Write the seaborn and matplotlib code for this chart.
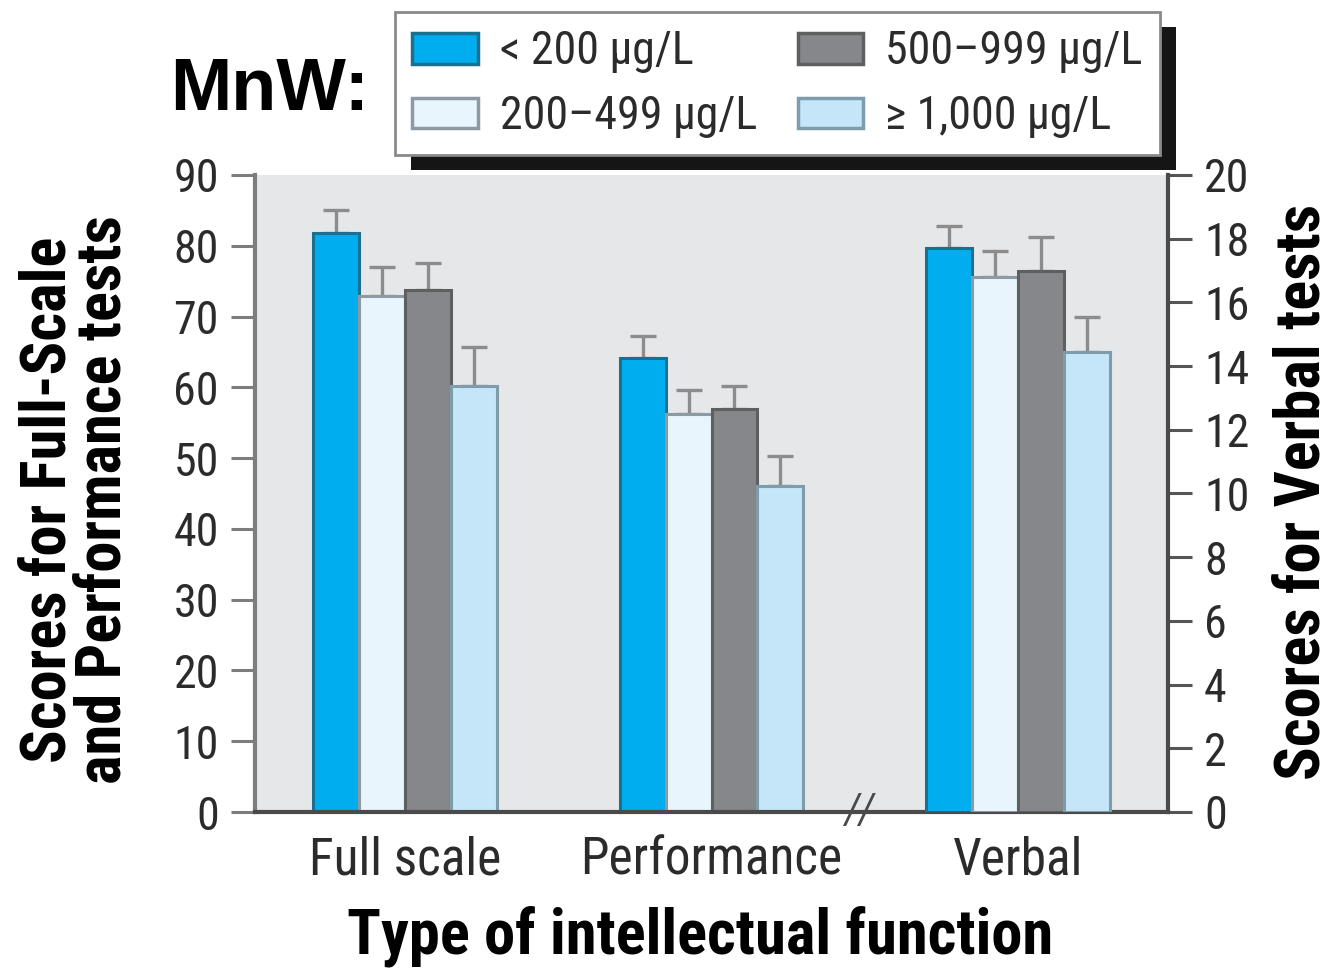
import matplotlib
matplotlib.use("Agg")
import matplotlib.pyplot as plt
from matplotlib import font_manager as fm
from matplotlib.patches import Patch, Rectangle
from matplotlib.transforms import blended_transform_factory
import seaborn as sns
import pandas as pd
import numpy as np

# ---------------- data ----------------
categories = ["Full scale", "Performance", "Verbal"]
groups = ["< 200 µg/L", "200–499 µg/L", "500–999 µg/L", "≥ 1,000 µg/L"]
full_scale = [81.8, 72.9, 73.8, 60.2]
full_scale_err = [3.2, 4.1, 3.8, 5.5]
performance = [64.2, 56.2, 56.9, 46.0]
performance_err = [3.0, 3.4, 3.3, 4.3]
verbal = [17.7, 16.8, 17.0, 14.45]
verbal_err = [0.7, 0.8, 1.05, 1.1]
left_ticks = list(range(0, 91, 10))
right_ticks = list(range(0, 21, 2))

colors = ["#00AEEF", "#E8F5FC", "#86878A", "#C4E6F8"]
edges = ["#1B6F8F", "#8C9BA3", "#5E5F61", "#7F9CAB"]


def pick(cands):
    for f in cands:
        try:
            fm.findfont(fm.FontProperties(family=f), fallback_to_default=False)
            return f
        except Exception:
            pass
    return None


narrow = pick(["Liberation Sans Narrow", "Roboto Condensed", "DejaVu Sans Condensed", "Open Sans Condensed"])
s = 1.0 if narrow else 0.75
fam = [narrow, "DejaVu Sans"] if narrow else ["DejaVu Sans"]

sns.set_theme(style="white")
plt.rcParams["font.family"] = fam

fig = plt.figure(figsize=(13.35, 9.68), dpi=100)
ax = fig.add_axes([255 / 1335, 1 - 812 / 968, 913 / 1335, 637 / 968])
ax.set_facecolor("#E6E7E8")
ax2 = ax.twinx()

left_df = pd.DataFrame({
    "category": np.repeat(categories[:2], 4),
    "group": groups * 2,
    "value": full_scale + performance,
})
right_df = pd.DataFrame({
    "category": [categories[2]] * 4,
    "group": groups,
    "value": verbal,
})

for a, d in ((ax, left_df), (ax2, right_df)):
    sns.barplot(data=d, x="category", y="value", hue="group", order=categories,
                hue_order=groups, palette=colors, saturation=1, width=0.6,
                errorbar=None, legend=False, linewidth=2.2, ax=a)

errs = {categories[0]: full_scale_err, categories[1]: performance_err, categories[2]: verbal_err}
for a in (ax, ax2):
    bar_conts = list(a.containers)
    for gi, cont in enumerate(bar_conts):
        for bar in list(cont):
            if bar is None:
                continue
            bar.set_edgecolor(edges[gi])
            xc = bar.get_x() + bar.get_width() / 2
            cat = categories[int(round(xc))]
            h = bar.get_height()
            a.errorbar([xc], [h], yerr=[[0], [errs[cat][gi]]], fmt="none",
                       ecolor="#8C8C8C", elinewidth=2.4, capsize=9.5, capthick=2.4,
                       zorder=0.9)

ax.set_xlim(-0.49, 2.49)
ax.set_ylim(0, 90)
ax2.set_ylim(0, 20)
ax.set_yticks(left_ticks)
ax2.set_yticks(right_ticks)
ax.set_xticks(range(len(categories)))
ax.set_xticklabels(categories)

txtc = "#2B2B2B"
ax.tick_params(axis="x", length=0, pad=17, labelsize=37 * s, labelcolor=txtc)
ax.tick_params(axis="y", left=True, length=17, width=2.2, color="#7D7D7D",
               pad=9, labelsize=33 * s, labelcolor=txtc)
ax2.tick_params(axis="y", right=True, length=17, width=2.2, color="#555555",
                pad=9, labelsize=33 * s, labelcolor=txtc)

for sp in ("top", "right"):
    ax.spines[sp].set_visible(False)
ax.spines["left"].set_color("#7D7D7D")
ax.spines["left"].set_linewidth(3)
ax.spines["bottom"].set_color("#4A4A4A")
ax.spines["bottom"].set_linewidth(3)
for sp in ("top", "left", "bottom"):
    ax2.spines[sp].set_visible(False)
ax2.spines["right"].set_color("#4A4A4A")
ax2.spines["right"].set_linewidth(3)

lab_kw = dict(fontsize=45 * s, fontweight="bold", color="black")
ax.set_xlabel("Type of intellectual function", **lab_kw)
ax.xaxis.set_label_coords(0.487, -0.195)
ax.xaxis.label.set_va("center")
ax.set_ylabel("Scores for Full-Scale\nand Performance tests", linespacing=0.9, **lab_kw)
ax.yaxis.label.set_va("center")
ax.yaxis.set_label_coords(-0.196, 0.49)
ax2.set_ylabel("Scores for Verbal tests", rotation=90, **lab_kw)
ax2.yaxis.label.set_va("center")
ax2.yaxis.set_label_coords(1.147, 0.502)

# axis break mark between Performance and Verbal
bx = (categories.index("Performance") + categories.index("Verbal")) / 2
ax.text(bx - 0.02, 0, "//", transform=blended_transform_factory(ax.transData, ax.transAxes),
        ha="center", va="center", fontsize=30 * s, color="#4A4A4A", clip_on=False,
        zorder=6, style="italic")

fig.text(170 / 1335, 1 - 110 / 968, "MnW:", ha="left", va="baseline", color="black",
         fontsize=53, fontweight="bold", family=["Liberation Sans", "DejaVu Sans"])

handles = [Patch(facecolor=c, edgecolor=e, linewidth=2.5) for c, e in zip(colors, edges)]
leg = fig.legend(handles, groups, ncol=2, loc="upper left",
                 bbox_to_anchor=(395 / 1335, 1 - 12 / 968), frameon=True, fancybox=False,
                 fontsize=33 * s, handlelength=1.42, handleheight=0.66, handletextpad=0.48,
                 columnspacing=0.9, labelspacing=0.45, borderpad=0.38, borderaxespad=0)
leg.get_frame().set_edgecolor("#8A8A8A")
leg.get_frame().set_linewidth(2)
leg.get_frame().set_facecolor("white")
leg.get_frame().set_alpha(1)
for t in leg.get_texts():
    t.set_color(txtc)
leg.set_zorder(5)

fig.canvas.draw()
bb = leg.get_window_extent()
W, H = fig.bbox.width, fig.bbox.height
shadow = Rectangle(((bb.x0 + 16) / W, (bb.y0 - 15) / H), bb.width / W, bb.height / H,
                   transform=fig.transFigure, facecolor="#151515", edgecolor="none", zorder=4)
fig.add_artist(shadow)

fig.savefig("out.png", dpi=100)
